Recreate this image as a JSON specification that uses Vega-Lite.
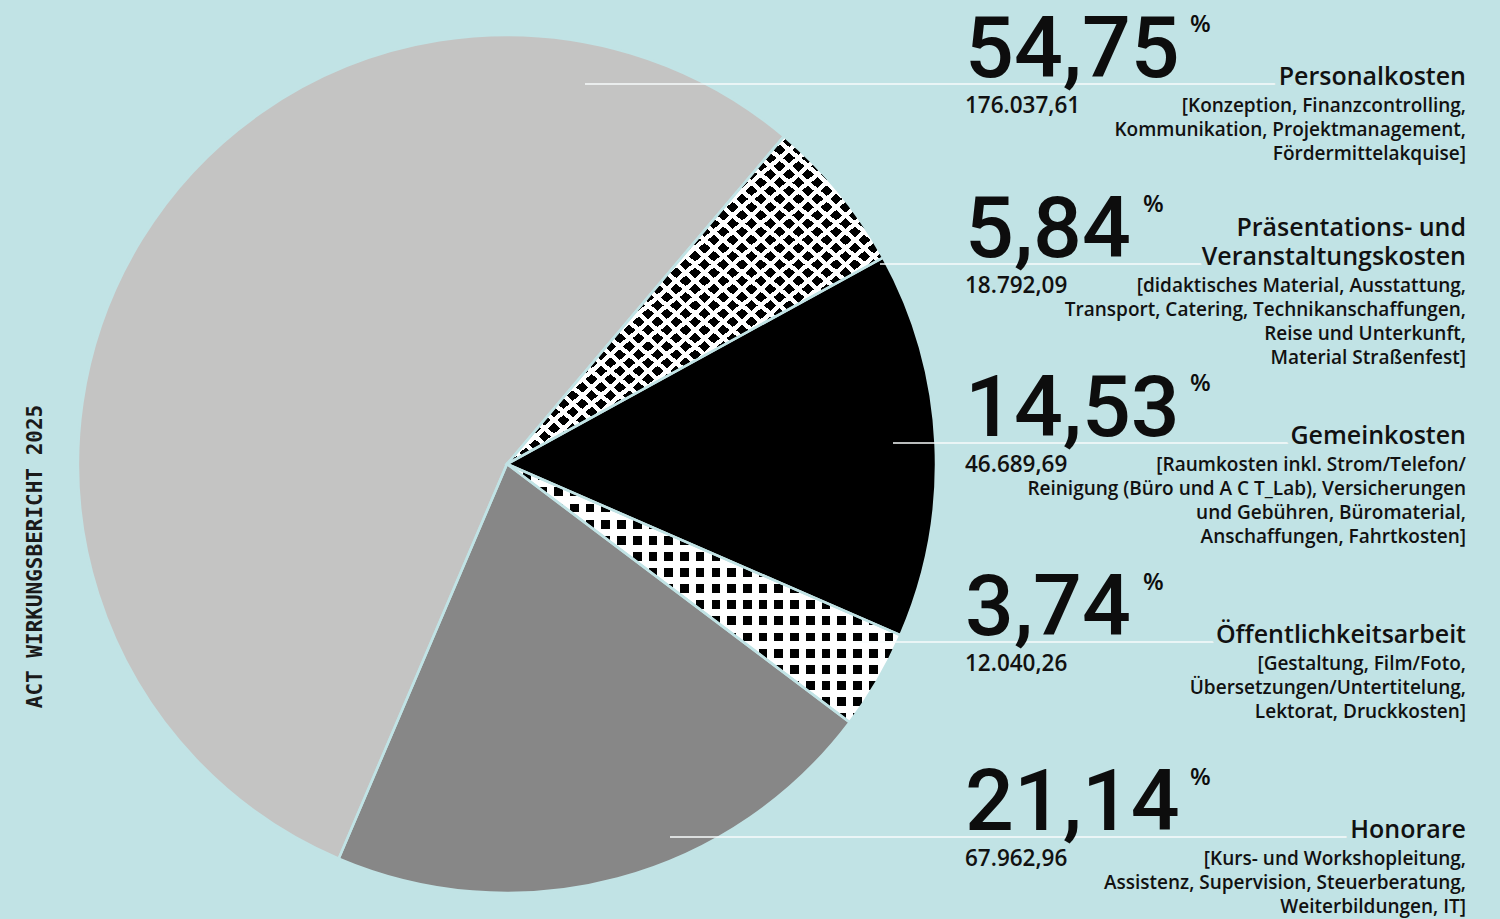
{
  "$schema": "https://vega.github.io/schema/vega-lite/v6.json",
  "width": 1500,
  "height": 919,
  "autosize": {"type": "none"},
  "padding": 0,
  "background": "#c1e3e5",
  "title": {
    "text": "ACT WIRKUNGSBERICHT 2025",
    "orient": "left",
    "anchor": "middle",
    "frame": "group",
    "offset": -46,
    "dx": -97,
    "font": "DejaVu Sans Mono",
    "fontSize": 21,
    "fontWeight": "bold",
    "color": "#1a1a1a"
  },
  "data": {
    "values": [
      {"rank": 1, "slice": 5, "key": "pers", "title": "Personalkosten", "titleTop": "", "desc": "[Konzeption, Finanzcontrolling,\nKommunikation, Projektmanagement,\nFördermittelakquise]", "pct": 54.75, "amount": 176037.61},
      {"rank": 2, "slice": 1, "key": "praes", "title": "Veranstaltungskosten", "titleTop": "Präsentations- und", "desc": "[didaktisches Material, Ausstattung,\nTransport, Catering, Technikanschaffungen,\nReise und Unterkunft,\nMaterial Straßenfest]", "pct": 5.84, "amount": 18792.09},
      {"rank": 3, "slice": 2, "key": "gemein", "title": "Gemeinkosten", "titleTop": "", "desc": "[Raumkosten inkl. Strom/Telefon/\nReinigung (Büro und A C T_Lab), Versicherungen\nund Gebühren, Büromaterial,\nAnschaffungen, Fahrtkosten]", "pct": 14.53, "amount": 46689.69},
      {"rank": 4, "slice": 3, "key": "oeff", "title": "Öffentlichkeitsarbeit", "titleTop": "", "desc": "[Gestaltung, Film/Foto,\nÜbersetzungen/Untertitelung,\nLektorat, Druckkosten]", "pct": 3.74, "amount": 12040.26},
      {"rank": 5, "slice": 4, "key": "hon", "title": "Honorare", "titleTop": "", "desc": "[Kurs- und Workshopleitung,\nAssistenz, Supervision, Steuerberatung,\nWeiterbildungen, IT]", "pct": 21.14, "amount": 67962.96}
    ]
  },
  "resolve": {"scale": {"x": "independent"}},
  "layer": [
    {
      "mark": {"type": "arc", "outerRadius": 429},
      "encoding": {
        "x": {"value": 507},
        "y": {"value": 464},
        "theta": {"field": "amount", "type": "quantitative", "stack": true, "scale": {"range": [0.7016, 6.9848]}},
        "order": {"field": "slice", "type": "quantitative"},
        "color": {
          "field": "key",
          "type": "nominal",
          "scale": {"domain": ["pers", "praes", "gemein", "oeff", "hon"], "range": ["#c4c4c3", "#ffffff", "#000000", "#ffffff", "#878787"]},
          "legend": null
        }
      }
    },
    {
      "mark": {
        "type": "arc",
        "outerRadius": 429,
        "fill": {
          "gradient": "linear", "x1": 0, "y1": 0, "x2": 1, "y2": 1,
          "stops": [
            {"offset": 0, "color": "#000"}, {"offset": 0.01625, "color": "#000"}, {"offset": 0.01625, "color": "transparent"}, {"offset": 0.025, "color": "transparent"},
            {"offset": 0.025, "color": "#000"}, {"offset": 0.04125, "color": "#000"}, {"offset": 0.04125, "color": "transparent"}, {"offset": 0.05, "color": "transparent"},
            {"offset": 0.05, "color": "#000"}, {"offset": 0.06625, "color": "#000"}, {"offset": 0.06625, "color": "transparent"}, {"offset": 0.075, "color": "transparent"},
            {"offset": 0.075, "color": "#000"}, {"offset": 0.09125, "color": "#000"}, {"offset": 0.09125, "color": "transparent"}, {"offset": 0.1, "color": "transparent"},
            {"offset": 0.1, "color": "#000"}, {"offset": 0.11625, "color": "#000"}, {"offset": 0.11625, "color": "transparent"}, {"offset": 0.125, "color": "transparent"},
            {"offset": 0.125, "color": "#000"}, {"offset": 0.14125, "color": "#000"}, {"offset": 0.14125, "color": "transparent"}, {"offset": 0.15, "color": "transparent"},
            {"offset": 0.15, "color": "#000"}, {"offset": 0.16625, "color": "#000"}, {"offset": 0.16625, "color": "transparent"}, {"offset": 0.175, "color": "transparent"},
            {"offset": 0.175, "color": "#000"}, {"offset": 0.19125, "color": "#000"}, {"offset": 0.19125, "color": "transparent"}, {"offset": 0.2, "color": "transparent"},
            {"offset": 0.2, "color": "#000"}, {"offset": 0.21625, "color": "#000"}, {"offset": 0.21625, "color": "transparent"}, {"offset": 0.225, "color": "transparent"},
            {"offset": 0.225, "color": "#000"}, {"offset": 0.24125, "color": "#000"}, {"offset": 0.24125, "color": "transparent"}, {"offset": 0.25, "color": "transparent"},
            {"offset": 0.25, "color": "#000"}, {"offset": 0.26625, "color": "#000"}, {"offset": 0.26625, "color": "transparent"}, {"offset": 0.275, "color": "transparent"},
            {"offset": 0.275, "color": "#000"}, {"offset": 0.29125, "color": "#000"}, {"offset": 0.29125, "color": "transparent"}, {"offset": 0.3, "color": "transparent"},
            {"offset": 0.3, "color": "#000"}, {"offset": 0.31625, "color": "#000"}, {"offset": 0.31625, "color": "transparent"}, {"offset": 0.325, "color": "transparent"},
            {"offset": 0.325, "color": "#000"}, {"offset": 0.34125, "color": "#000"}, {"offset": 0.34125, "color": "transparent"}, {"offset": 0.35, "color": "transparent"},
            {"offset": 0.35, "color": "#000"}, {"offset": 0.36625, "color": "#000"}, {"offset": 0.36625, "color": "transparent"}, {"offset": 0.375, "color": "transparent"},
            {"offset": 0.375, "color": "#000"}, {"offset": 0.39125, "color": "#000"}, {"offset": 0.39125, "color": "transparent"}, {"offset": 0.4, "color": "transparent"},
            {"offset": 0.4, "color": "#000"}, {"offset": 0.41625, "color": "#000"}, {"offset": 0.41625, "color": "transparent"}, {"offset": 0.425, "color": "transparent"},
            {"offset": 0.425, "color": "#000"}, {"offset": 0.44125, "color": "#000"}, {"offset": 0.44125, "color": "transparent"}, {"offset": 0.45, "color": "transparent"},
            {"offset": 0.45, "color": "#000"}, {"offset": 0.46625, "color": "#000"}, {"offset": 0.46625, "color": "transparent"}, {"offset": 0.475, "color": "transparent"},
            {"offset": 0.475, "color": "#000"}, {"offset": 0.49125, "color": "#000"}, {"offset": 0.49125, "color": "transparent"}, {"offset": 0.5, "color": "transparent"},
            {"offset": 0.5, "color": "#000"}, {"offset": 0.51625, "color": "#000"}, {"offset": 0.51625, "color": "transparent"}, {"offset": 0.525, "color": "transparent"},
            {"offset": 0.525, "color": "#000"}, {"offset": 0.54125, "color": "#000"}, {"offset": 0.54125, "color": "transparent"}, {"offset": 0.55, "color": "transparent"},
            {"offset": 0.55, "color": "#000"}, {"offset": 0.56625, "color": "#000"}, {"offset": 0.56625, "color": "transparent"}, {"offset": 0.575, "color": "transparent"},
            {"offset": 0.575, "color": "#000"}, {"offset": 0.59125, "color": "#000"}, {"offset": 0.59125, "color": "transparent"}, {"offset": 0.6, "color": "transparent"},
            {"offset": 0.6, "color": "#000"}, {"offset": 0.61625, "color": "#000"}, {"offset": 0.61625, "color": "transparent"}, {"offset": 0.625, "color": "transparent"},
            {"offset": 0.625, "color": "#000"}, {"offset": 0.64125, "color": "#000"}, {"offset": 0.64125, "color": "transparent"}, {"offset": 0.65, "color": "transparent"},
            {"offset": 0.65, "color": "#000"}, {"offset": 0.66625, "color": "#000"}, {"offset": 0.66625, "color": "transparent"}, {"offset": 0.675, "color": "transparent"},
            {"offset": 0.675, "color": "#000"}, {"offset": 0.69125, "color": "#000"}, {"offset": 0.69125, "color": "transparent"}, {"offset": 0.7, "color": "transparent"},
            {"offset": 0.7, "color": "#000"}, {"offset": 0.71625, "color": "#000"}, {"offset": 0.71625, "color": "transparent"}, {"offset": 0.725, "color": "transparent"},
            {"offset": 0.725, "color": "#000"}, {"offset": 0.74125, "color": "#000"}, {"offset": 0.74125, "color": "transparent"}, {"offset": 0.75, "color": "transparent"},
            {"offset": 0.75, "color": "#000"}, {"offset": 0.76625, "color": "#000"}, {"offset": 0.76625, "color": "transparent"}, {"offset": 0.775, "color": "transparent"},
            {"offset": 0.775, "color": "#000"}, {"offset": 0.79125, "color": "#000"}, {"offset": 0.79125, "color": "transparent"}, {"offset": 0.8, "color": "transparent"},
            {"offset": 0.8, "color": "#000"}, {"offset": 0.81625, "color": "#000"}, {"offset": 0.81625, "color": "transparent"}, {"offset": 0.825, "color": "transparent"},
            {"offset": 0.825, "color": "#000"}, {"offset": 0.84125, "color": "#000"}, {"offset": 0.84125, "color": "transparent"}, {"offset": 0.85, "color": "transparent"},
            {"offset": 0.85, "color": "#000"}, {"offset": 0.86625, "color": "#000"}, {"offset": 0.86625, "color": "transparent"}, {"offset": 0.875, "color": "transparent"},
            {"offset": 0.875, "color": "#000"}, {"offset": 0.89125, "color": "#000"}, {"offset": 0.89125, "color": "transparent"}, {"offset": 0.9, "color": "transparent"},
            {"offset": 0.9, "color": "#000"}, {"offset": 0.91625, "color": "#000"}, {"offset": 0.91625, "color": "transparent"}, {"offset": 0.925, "color": "transparent"},
            {"offset": 0.925, "color": "#000"}, {"offset": 0.94125, "color": "#000"}, {"offset": 0.94125, "color": "transparent"}, {"offset": 0.95, "color": "transparent"},
            {"offset": 0.95, "color": "#000"}, {"offset": 0.96625, "color": "#000"}, {"offset": 0.96625, "color": "transparent"}, {"offset": 0.975, "color": "transparent"},
            {"offset": 0.975, "color": "#000"}, {"offset": 0.99125, "color": "#000"}, {"offset": 0.99125, "color": "transparent"}, {"offset": 1, "color": "transparent"}
          ]
        }
      },
      "encoding": {
        "x": {"value": 507},
        "y": {"value": 464},
        "theta": {"field": "amount", "type": "quantitative", "stack": true},
        "order": {"field": "slice", "type": "quantitative"},
        "fillOpacity": {"condition": {"test": "datum.key === 'praes'", "value": 1}, "value": 0}
      }
    },
    {
      "mark": {
        "type": "arc",
        "outerRadius": 429,
        "fill": {
          "gradient": "linear", "x1": 0, "y1": 1, "x2": 1, "y2": 0,
          "stops": [
            {"offset": 0, "color": "#fff"}, {"offset": 0.00875, "color": "#fff"}, {"offset": 0.00875, "color": "transparent"}, {"offset": 0.025, "color": "transparent"},
            {"offset": 0.025, "color": "#fff"}, {"offset": 0.03375, "color": "#fff"}, {"offset": 0.03375, "color": "transparent"}, {"offset": 0.05, "color": "transparent"},
            {"offset": 0.05, "color": "#fff"}, {"offset": 0.05875, "color": "#fff"}, {"offset": 0.05875, "color": "transparent"}, {"offset": 0.075, "color": "transparent"},
            {"offset": 0.075, "color": "#fff"}, {"offset": 0.08375, "color": "#fff"}, {"offset": 0.08375, "color": "transparent"}, {"offset": 0.1, "color": "transparent"},
            {"offset": 0.1, "color": "#fff"}, {"offset": 0.10875, "color": "#fff"}, {"offset": 0.10875, "color": "transparent"}, {"offset": 0.125, "color": "transparent"},
            {"offset": 0.125, "color": "#fff"}, {"offset": 0.13375, "color": "#fff"}, {"offset": 0.13375, "color": "transparent"}, {"offset": 0.15, "color": "transparent"},
            {"offset": 0.15, "color": "#fff"}, {"offset": 0.15875, "color": "#fff"}, {"offset": 0.15875, "color": "transparent"}, {"offset": 0.175, "color": "transparent"},
            {"offset": 0.175, "color": "#fff"}, {"offset": 0.18375, "color": "#fff"}, {"offset": 0.18375, "color": "transparent"}, {"offset": 0.2, "color": "transparent"},
            {"offset": 0.2, "color": "#fff"}, {"offset": 0.20875, "color": "#fff"}, {"offset": 0.20875, "color": "transparent"}, {"offset": 0.225, "color": "transparent"},
            {"offset": 0.225, "color": "#fff"}, {"offset": 0.23375, "color": "#fff"}, {"offset": 0.23375, "color": "transparent"}, {"offset": 0.25, "color": "transparent"},
            {"offset": 0.25, "color": "#fff"}, {"offset": 0.25875, "color": "#fff"}, {"offset": 0.25875, "color": "transparent"}, {"offset": 0.275, "color": "transparent"},
            {"offset": 0.275, "color": "#fff"}, {"offset": 0.28375, "color": "#fff"}, {"offset": 0.28375, "color": "transparent"}, {"offset": 0.3, "color": "transparent"},
            {"offset": 0.3, "color": "#fff"}, {"offset": 0.30875, "color": "#fff"}, {"offset": 0.30875, "color": "transparent"}, {"offset": 0.325, "color": "transparent"},
            {"offset": 0.325, "color": "#fff"}, {"offset": 0.33375, "color": "#fff"}, {"offset": 0.33375, "color": "transparent"}, {"offset": 0.35, "color": "transparent"},
            {"offset": 0.35, "color": "#fff"}, {"offset": 0.35875, "color": "#fff"}, {"offset": 0.35875, "color": "transparent"}, {"offset": 0.375, "color": "transparent"},
            {"offset": 0.375, "color": "#fff"}, {"offset": 0.38375, "color": "#fff"}, {"offset": 0.38375, "color": "transparent"}, {"offset": 0.4, "color": "transparent"},
            {"offset": 0.4, "color": "#fff"}, {"offset": 0.40875, "color": "#fff"}, {"offset": 0.40875, "color": "transparent"}, {"offset": 0.425, "color": "transparent"},
            {"offset": 0.425, "color": "#fff"}, {"offset": 0.43375, "color": "#fff"}, {"offset": 0.43375, "color": "transparent"}, {"offset": 0.45, "color": "transparent"},
            {"offset": 0.45, "color": "#fff"}, {"offset": 0.45875, "color": "#fff"}, {"offset": 0.45875, "color": "transparent"}, {"offset": 0.475, "color": "transparent"},
            {"offset": 0.475, "color": "#fff"}, {"offset": 0.48375, "color": "#fff"}, {"offset": 0.48375, "color": "transparent"}, {"offset": 0.5, "color": "transparent"},
            {"offset": 0.5, "color": "#fff"}, {"offset": 0.50875, "color": "#fff"}, {"offset": 0.50875, "color": "transparent"}, {"offset": 0.525, "color": "transparent"},
            {"offset": 0.525, "color": "#fff"}, {"offset": 0.53375, "color": "#fff"}, {"offset": 0.53375, "color": "transparent"}, {"offset": 0.55, "color": "transparent"},
            {"offset": 0.55, "color": "#fff"}, {"offset": 0.55875, "color": "#fff"}, {"offset": 0.55875, "color": "transparent"}, {"offset": 0.575, "color": "transparent"},
            {"offset": 0.575, "color": "#fff"}, {"offset": 0.58375, "color": "#fff"}, {"offset": 0.58375, "color": "transparent"}, {"offset": 0.6, "color": "transparent"},
            {"offset": 0.6, "color": "#fff"}, {"offset": 0.60875, "color": "#fff"}, {"offset": 0.60875, "color": "transparent"}, {"offset": 0.625, "color": "transparent"},
            {"offset": 0.625, "color": "#fff"}, {"offset": 0.63375, "color": "#fff"}, {"offset": 0.63375, "color": "transparent"}, {"offset": 0.65, "color": "transparent"},
            {"offset": 0.65, "color": "#fff"}, {"offset": 0.65875, "color": "#fff"}, {"offset": 0.65875, "color": "transparent"}, {"offset": 0.675, "color": "transparent"},
            {"offset": 0.675, "color": "#fff"}, {"offset": 0.68375, "color": "#fff"}, {"offset": 0.68375, "color": "transparent"}, {"offset": 0.7, "color": "transparent"},
            {"offset": 0.7, "color": "#fff"}, {"offset": 0.70875, "color": "#fff"}, {"offset": 0.70875, "color": "transparent"}, {"offset": 0.725, "color": "transparent"},
            {"offset": 0.725, "color": "#fff"}, {"offset": 0.73375, "color": "#fff"}, {"offset": 0.73375, "color": "transparent"}, {"offset": 0.75, "color": "transparent"},
            {"offset": 0.75, "color": "#fff"}, {"offset": 0.75875, "color": "#fff"}, {"offset": 0.75875, "color": "transparent"}, {"offset": 0.775, "color": "transparent"},
            {"offset": 0.775, "color": "#fff"}, {"offset": 0.78375, "color": "#fff"}, {"offset": 0.78375, "color": "transparent"}, {"offset": 0.8, "color": "transparent"},
            {"offset": 0.8, "color": "#fff"}, {"offset": 0.80875, "color": "#fff"}, {"offset": 0.80875, "color": "transparent"}, {"offset": 0.825, "color": "transparent"},
            {"offset": 0.825, "color": "#fff"}, {"offset": 0.83375, "color": "#fff"}, {"offset": 0.83375, "color": "transparent"}, {"offset": 0.85, "color": "transparent"},
            {"offset": 0.85, "color": "#fff"}, {"offset": 0.85875, "color": "#fff"}, {"offset": 0.85875, "color": "transparent"}, {"offset": 0.875, "color": "transparent"},
            {"offset": 0.875, "color": "#fff"}, {"offset": 0.88375, "color": "#fff"}, {"offset": 0.88375, "color": "transparent"}, {"offset": 0.9, "color": "transparent"},
            {"offset": 0.9, "color": "#fff"}, {"offset": 0.90875, "color": "#fff"}, {"offset": 0.90875, "color": "transparent"}, {"offset": 0.925, "color": "transparent"},
            {"offset": 0.925, "color": "#fff"}, {"offset": 0.93375, "color": "#fff"}, {"offset": 0.93375, "color": "transparent"}, {"offset": 0.95, "color": "transparent"},
            {"offset": 0.95, "color": "#fff"}, {"offset": 0.95875, "color": "#fff"}, {"offset": 0.95875, "color": "transparent"}, {"offset": 0.975, "color": "transparent"},
            {"offset": 0.975, "color": "#fff"}, {"offset": 0.98375, "color": "#fff"}, {"offset": 0.98375, "color": "transparent"}, {"offset": 1, "color": "transparent"}
          ]
        }
      },
      "encoding": {
        "x": {"value": 507},
        "y": {"value": 464},
        "theta": {"field": "amount", "type": "quantitative", "stack": true},
        "order": {"field": "slice", "type": "quantitative"},
        "fillOpacity": {"condition": {"test": "datum.key === 'praes'", "value": 1}, "value": 0}
      }
    },
    {
      "mark": {
        "type": "arc",
        "outerRadius": 429,
        "fill": {
          "gradient": "linear", "x1": 0, "y1": 0, "x2": 1, "y2": 0,
          "stops": [
            {"offset": 0, "color": "#000"}, {"offset": 0.022, "color": "#000"}, {"offset": 0.022, "color": "transparent"}, {"offset": 0.04, "color": "transparent"},
            {"offset": 0.04, "color": "#000"}, {"offset": 0.062, "color": "#000"}, {"offset": 0.062, "color": "transparent"}, {"offset": 0.08, "color": "transparent"},
            {"offset": 0.08, "color": "#000"}, {"offset": 0.102, "color": "#000"}, {"offset": 0.102, "color": "transparent"}, {"offset": 0.12, "color": "transparent"},
            {"offset": 0.12, "color": "#000"}, {"offset": 0.142, "color": "#000"}, {"offset": 0.142, "color": "transparent"}, {"offset": 0.16, "color": "transparent"},
            {"offset": 0.16, "color": "#000"}, {"offset": 0.182, "color": "#000"}, {"offset": 0.182, "color": "transparent"}, {"offset": 0.2, "color": "transparent"},
            {"offset": 0.2, "color": "#000"}, {"offset": 0.222, "color": "#000"}, {"offset": 0.222, "color": "transparent"}, {"offset": 0.24, "color": "transparent"},
            {"offset": 0.24, "color": "#000"}, {"offset": 0.262, "color": "#000"}, {"offset": 0.262, "color": "transparent"}, {"offset": 0.28, "color": "transparent"},
            {"offset": 0.28, "color": "#000"}, {"offset": 0.302, "color": "#000"}, {"offset": 0.302, "color": "transparent"}, {"offset": 0.32, "color": "transparent"},
            {"offset": 0.32, "color": "#000"}, {"offset": 0.342, "color": "#000"}, {"offset": 0.342, "color": "transparent"}, {"offset": 0.36, "color": "transparent"},
            {"offset": 0.36, "color": "#000"}, {"offset": 0.382, "color": "#000"}, {"offset": 0.382, "color": "transparent"}, {"offset": 0.4, "color": "transparent"},
            {"offset": 0.4, "color": "#000"}, {"offset": 0.422, "color": "#000"}, {"offset": 0.422, "color": "transparent"}, {"offset": 0.44, "color": "transparent"},
            {"offset": 0.44, "color": "#000"}, {"offset": 0.462, "color": "#000"}, {"offset": 0.462, "color": "transparent"}, {"offset": 0.48, "color": "transparent"},
            {"offset": 0.48, "color": "#000"}, {"offset": 0.502, "color": "#000"}, {"offset": 0.502, "color": "transparent"}, {"offset": 0.52, "color": "transparent"},
            {"offset": 0.52, "color": "#000"}, {"offset": 0.542, "color": "#000"}, {"offset": 0.542, "color": "transparent"}, {"offset": 0.56, "color": "transparent"},
            {"offset": 0.56, "color": "#000"}, {"offset": 0.582, "color": "#000"}, {"offset": 0.582, "color": "transparent"}, {"offset": 0.6, "color": "transparent"},
            {"offset": 0.6, "color": "#000"}, {"offset": 0.622, "color": "#000"}, {"offset": 0.622, "color": "transparent"}, {"offset": 0.64, "color": "transparent"},
            {"offset": 0.64, "color": "#000"}, {"offset": 0.662, "color": "#000"}, {"offset": 0.662, "color": "transparent"}, {"offset": 0.68, "color": "transparent"},
            {"offset": 0.68, "color": "#000"}, {"offset": 0.702, "color": "#000"}, {"offset": 0.702, "color": "transparent"}, {"offset": 0.72, "color": "transparent"},
            {"offset": 0.72, "color": "#000"}, {"offset": 0.742, "color": "#000"}, {"offset": 0.742, "color": "transparent"}, {"offset": 0.76, "color": "transparent"},
            {"offset": 0.76, "color": "#000"}, {"offset": 0.782, "color": "#000"}, {"offset": 0.782, "color": "transparent"}, {"offset": 0.8, "color": "transparent"},
            {"offset": 0.8, "color": "#000"}, {"offset": 0.822, "color": "#000"}, {"offset": 0.822, "color": "transparent"}, {"offset": 0.84, "color": "transparent"},
            {"offset": 0.84, "color": "#000"}, {"offset": 0.862, "color": "#000"}, {"offset": 0.862, "color": "transparent"}, {"offset": 0.88, "color": "transparent"},
            {"offset": 0.88, "color": "#000"}, {"offset": 0.902, "color": "#000"}, {"offset": 0.902, "color": "transparent"}, {"offset": 0.92, "color": "transparent"},
            {"offset": 0.92, "color": "#000"}, {"offset": 0.942, "color": "#000"}, {"offset": 0.942, "color": "transparent"}, {"offset": 0.96, "color": "transparent"},
            {"offset": 0.96, "color": "#000"}, {"offset": 0.982, "color": "#000"}, {"offset": 0.982, "color": "transparent"}, {"offset": 1, "color": "transparent"}
          ]
        }
      },
      "encoding": {
        "x": {"value": 507},
        "y": {"value": 464},
        "theta": {"field": "amount", "type": "quantitative", "stack": true},
        "order": {"field": "slice", "type": "quantitative"},
        "fillOpacity": {"condition": {"test": "datum.key === 'oeff'", "value": 1}, "value": 0}
      }
    },
    {
      "mark": {
        "type": "arc",
        "outerRadius": 429,
        "fill": {
          "gradient": "linear", "x1": 0, "y1": 0, "x2": 0, "y2": 1,
          "stops": [
            {"offset": 0, "color": "#fff"}, {"offset": 0.028125, "color": "#fff"}, {"offset": 0.028125, "color": "transparent"}, {"offset": 0.0625, "color": "transparent"},
            {"offset": 0.0625, "color": "#fff"}, {"offset": 0.090625, "color": "#fff"}, {"offset": 0.090625, "color": "transparent"}, {"offset": 0.125, "color": "transparent"},
            {"offset": 0.125, "color": "#fff"}, {"offset": 0.153125, "color": "#fff"}, {"offset": 0.153125, "color": "transparent"}, {"offset": 0.1875, "color": "transparent"},
            {"offset": 0.1875, "color": "#fff"}, {"offset": 0.215625, "color": "#fff"}, {"offset": 0.215625, "color": "transparent"}, {"offset": 0.25, "color": "transparent"},
            {"offset": 0.25, "color": "#fff"}, {"offset": 0.278125, "color": "#fff"}, {"offset": 0.278125, "color": "transparent"}, {"offset": 0.3125, "color": "transparent"},
            {"offset": 0.3125, "color": "#fff"}, {"offset": 0.340625, "color": "#fff"}, {"offset": 0.340625, "color": "transparent"}, {"offset": 0.375, "color": "transparent"},
            {"offset": 0.375, "color": "#fff"}, {"offset": 0.403125, "color": "#fff"}, {"offset": 0.403125, "color": "transparent"}, {"offset": 0.4375, "color": "transparent"},
            {"offset": 0.4375, "color": "#fff"}, {"offset": 0.465625, "color": "#fff"}, {"offset": 0.465625, "color": "transparent"}, {"offset": 0.5, "color": "transparent"},
            {"offset": 0.5, "color": "#fff"}, {"offset": 0.528125, "color": "#fff"}, {"offset": 0.528125, "color": "transparent"}, {"offset": 0.5625, "color": "transparent"},
            {"offset": 0.5625, "color": "#fff"}, {"offset": 0.590625, "color": "#fff"}, {"offset": 0.590625, "color": "transparent"}, {"offset": 0.625, "color": "transparent"},
            {"offset": 0.625, "color": "#fff"}, {"offset": 0.653125, "color": "#fff"}, {"offset": 0.653125, "color": "transparent"}, {"offset": 0.6875, "color": "transparent"},
            {"offset": 0.6875, "color": "#fff"}, {"offset": 0.715625, "color": "#fff"}, {"offset": 0.715625, "color": "transparent"}, {"offset": 0.75, "color": "transparent"},
            {"offset": 0.75, "color": "#fff"}, {"offset": 0.778125, "color": "#fff"}, {"offset": 0.778125, "color": "transparent"}, {"offset": 0.8125, "color": "transparent"},
            {"offset": 0.8125, "color": "#fff"}, {"offset": 0.840625, "color": "#fff"}, {"offset": 0.840625, "color": "transparent"}, {"offset": 0.875, "color": "transparent"},
            {"offset": 0.875, "color": "#fff"}, {"offset": 0.903125, "color": "#fff"}, {"offset": 0.903125, "color": "transparent"}, {"offset": 0.9375, "color": "transparent"},
            {"offset": 0.9375, "color": "#fff"}, {"offset": 0.965625, "color": "#fff"}, {"offset": 0.965625, "color": "transparent"}, {"offset": 1, "color": "transparent"}
          ]
        }
      },
      "encoding": {
        "x": {"value": 507},
        "y": {"value": 464},
        "theta": {"field": "amount", "type": "quantitative", "stack": true},
        "order": {"field": "slice", "type": "quantitative"},
        "fillOpacity": {"condition": {"test": "datum.key === 'oeff'", "value": 1}, "value": 0}
      }
    },
    {
      "mark": {"type": "arc", "outerRadius": 429, "fillOpacity": 0, "stroke": "#c1e3e5", "strokeWidth": 2.5},
      "encoding": {
        "x": {"value": 507},
        "y": {"value": 464},
        "theta": {"field": "amount", "type": "quantitative", "stack": true},
        "order": {"field": "slice", "type": "quantitative"}
      }
    },
    {
      "mark": {"type": "rule", "color": "#f7fbfb", "strokeWidth": 1.6},
      "encoding": {
        "x": {"field": "rank", "type": "quantitative", "scale": {"domain": [1, 2, 3, 4, 5], "range": [585, 880, 893, 855, 670], "zero": false, "nice": false}, "axis": null},
        "x2": {"value": 1470},
        "y": {"field": "rank", "type": "quantitative", "scale": {"domain": [1, 2, 3, 4, 5], "range": [84, 264, 443, 642, 837], "zero": false, "nice": false}, "axis": null}
      }
    },
    {
      "mark": {"type": "text", "align": "right", "baseline": "alphabetic", "dy": 1, "font": "Open Sans", "fontSize": 25, "fontWeight": 600, "fill": "#c1e3e5", "stroke": "#c1e3e5", "strokeWidth": 12, "strokeJoin": "round"},
      "encoding": {
        "x": {"value": 1466},
        "y": {"field": "rank", "type": "quantitative"},
        "text": {"field": "title", "type": "nominal"}
      }
    },
    {
      "mark": {"type": "text", "align": "right", "baseline": "alphabetic", "dy": 1, "font": "Open Sans", "fontSize": 25, "fontWeight": 600, "color": "#111111"},
      "encoding": {
        "x": {"value": 1466},
        "y": {"field": "rank", "type": "quantitative"},
        "text": {"field": "title", "type": "nominal"}
      }
    },
    {
      "mark": {"type": "text", "align": "right", "baseline": "alphabetic", "dy": -28, "font": "Open Sans", "fontSize": 25, "fontWeight": 600, "color": "#111111"},
      "encoding": {
        "x": {"value": 1466},
        "y": {"field": "rank", "type": "quantitative"},
        "text": {"field": "titleTop", "type": "nominal"}
      }
    },
    {
      "mark": {"type": "text", "align": "right", "baseline": "alphabetic", "dy": 28, "font": "Open Sans", "fontSize": 19, "fontWeight": 600, "lineHeight": 24, "lineBreak": "\n", "color": "#111111"},
      "encoding": {
        "x": {"value": 1466},
        "y": {"field": "rank", "type": "quantitative"},
        "text": {"field": "desc", "type": "nominal"}
      }
    },
    {
      "mark": {"type": "text", "align": "left", "baseline": "alphabetic", "dy": -7, "font": "Roboto", "fontSize": 86, "fontWeight": 500, "color": "#0d0d0d"},
      "encoding": {
        "x": {"value": 965},
        "y": {"field": "rank", "type": "quantitative"},
        "text": {"field": "pct", "type": "quantitative", "format": ".2f"}
      }
    },
    {
      "mark": {"type": "text", "align": "left", "baseline": "alphabetic", "dy": -52, "font": "Open Sans", "fontSize": 24, "fontWeight": 600, "color": "#0d0d0d"},
      "encoding": {
        "x": {"field": "rank", "type": "quantitative", "scale": {"domain": [1, 2, 3, 4, 5], "range": [1190, 1143, 1190, 1143, 1190], "zero": false, "nice": false}, "axis": null},
        "y": {"field": "rank", "type": "quantitative"},
        "text": {"value": "%"}
      }
    },
    {
      "mark": {"type": "text", "align": "left", "baseline": "alphabetic", "dy": 29, "font": "Open Sans", "fontSize": 22.5, "fontWeight": 600, "color": "#111111"},
      "encoding": {
        "x": {"value": 965},
        "y": {"field": "rank", "type": "quantitative"},
        "text": {"field": "amount", "type": "quantitative", "format": ",.2f"}
      }
    }
  ],
  "config": {
    "view": {"stroke": null},
    "locale": {"number": {"decimal": ",", "thousands": ".", "grouping": [3], "currency": ["", " €"]}}
  }
}
